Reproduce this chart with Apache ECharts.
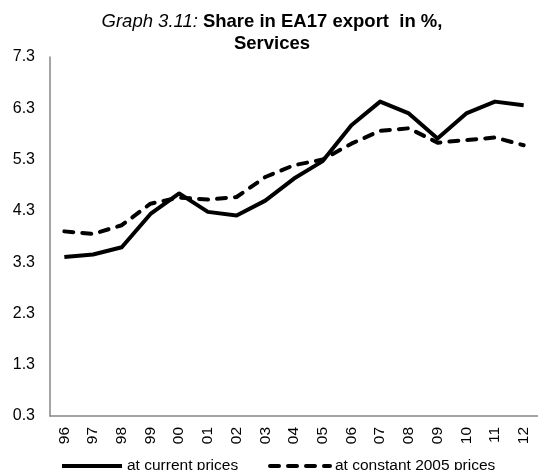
<!DOCTYPE html>
<html>
<head>
<meta charset="utf-8">
<script src="https://cdn.jsdelivr.net/npm/echarts@6/dist/echarts.min.js"></script>
<style>
  html, body { margin: 0; padding: 0; background: #fff; }
  #main { width: 538px; height: 470px; }
</style>
</head>
<body>
<div id="main"></div>
<script>
// data
var years = ["96", "97", "98", "99", "00", "01", "02", "03", "04", "05", "06", "07", "08", "09", "10", "11", "12"];
var currentPrices = [3.40, 3.45, 3.59, 4.24, 4.64, 4.28, 4.21, 4.50, 4.93, 5.27, 5.97, 6.43, 6.20, 5.71, 6.20, 6.43, 6.36];
var constantPrices = [3.90, 3.85, 4.02, 4.44, 4.56, 4.52, 4.57, 4.96, 5.19, 5.30, 5.61, 5.86, 5.91, 5.63, 5.68, 5.73, 5.58];
var seriesNames = ["at current prices", "at constant 2005 prices"];

var chart = echarts.init(document.getElementById("main"));
var font = "Liberation Sans, Arial, sans-serif";

var legendBase = {
  top: 453,
  itemWidth: 60,
  itemHeight: 8,
  itemStyle: { opacity: 0 },
  lineStyle: { width: 4 },
  textStyle: { fontSize: 15.5, fontFamily: font, color: "#000" }
};

var option = {
  animation: false,
  title: [
    {
      text: "{i|Graph 3.11:} {b|Share in EA17 export  in %,}",
      left: 267,
      top: 7,
      textAlign: "center",
      textStyle: {
        rich: {
          i: { fontStyle: "italic", fontWeight: "normal", fontSize: 18.5, fontFamily: font, color: "#000" },
          b: { fontWeight: "bold", fontSize: 18.5, fontFamily: font, color: "#000" }
        }
      }
    },
    {
      text: "Services",
      left: 267,
      top: 29,
      textAlign: "center",
      textStyle: { fontWeight: "bold", fontSize: 18.5, fontFamily: font, color: "#000" }
    }
  ],
  legend: [
    Object.assign({ left: 55, data: [seriesNames[0]] }, legendBase),
    Object.assign({ left: 263, data: [seriesNames[1]] }, legendBase)
  ],
  grid: {
    left: 50,
    right: -6,
    top: 57,
    bottom: 54,
    containLabel: false
  },
  xAxis: {
    type: "category",
    data: years,
    boundaryGap: true,
    axisLine: { show: true, lineStyle: { color: "#868686", width: 1.5 } },
    axisTick: { show: false },
    axisLabel: {
      rotate: 90,
      interval: 0,
      margin: 11,
      fontSize: 15.5,
      fontFamily: font,
      color: "#000"
    },
    splitLine: { show: false }
  },
  yAxis: {
    type: "value",
    min: 0.3,
    max: 7.3,
    interval: 1,
    axisLine: { show: true, lineStyle: { color: "#868686", width: 1.5 } },
    axisTick: { show: false },
    splitLine: { show: false },
    axisLabel: {
      margin: 15,
      fontSize: 16,
      fontFamily: font,
      color: "#000",
      formatter: function (v) { return v.toFixed(1); }
    }
  },
  series: [
    {
      name: seriesNames[0],
      type: "line",
      data: currentPrices,
      symbol: "none",
      color: "#000",
      lineStyle: { color: "#000", width: 4, join: "round" }
    },
    {
      name: seriesNames[1],
      type: "line",
      data: constantPrices,
      symbol: "none",
      color: "#000",
      lineStyle: { color: "#000", width: 4, type: [9, 9], cap: "round", join: "round" }
    }
  ]
};

chart.setOption(option);
</script>
</body>
</html>
